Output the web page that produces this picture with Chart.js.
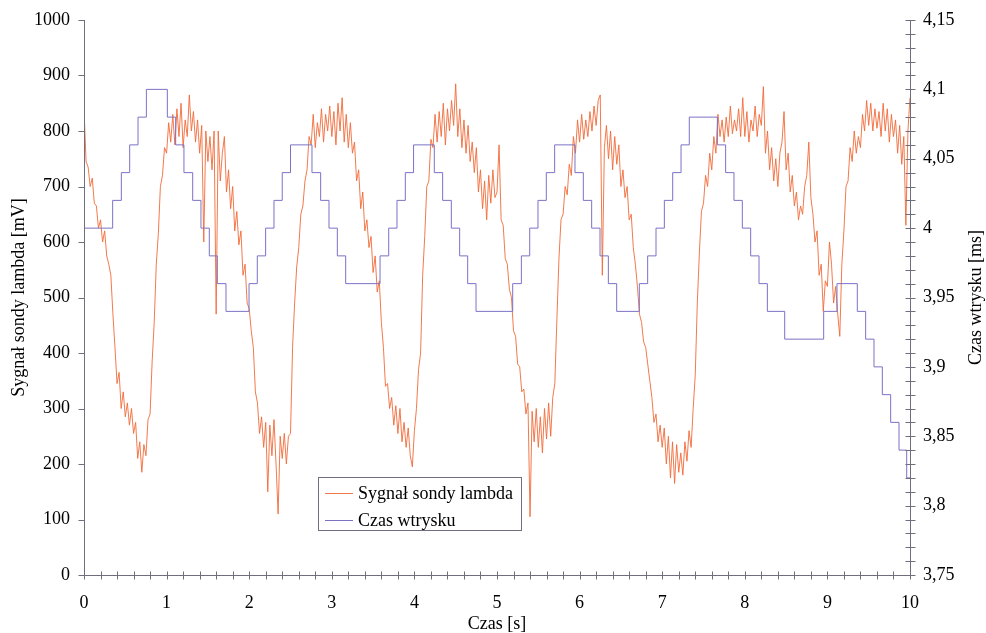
<!DOCTYPE html>
<html>
<head>
<meta charset="utf-8">
<script src="https://cdn.jsdelivr.net/npm/chart.js@4.4.1/dist/chart.umd.min.js"></script>
<style>
  html, body { margin: 0; padding: 0; background: #fff; }
  canvas { display: block; }
</style>
</head>
<body>
<canvas id="chart" width="986" height="633"></canvas>
<script>
// Lambda probe signal [mV], sampled every 0.025 s (one row per second)
const SAMPLE_STEP = 0.025;
const lambdaSignal = [
    840, 745, 735, 700, 715, 670, 665, 625, 640, 600, 620, 575, 560, 540, 470, 410, 345, 365, 300, 330,
    285, 310, 270, 300, 255, 275, 210, 240, 185, 235, 215, 280, 290, 385, 455, 560, 615, 700, 720, 770,
    760, 815, 780, 830, 775, 840, 790, 850, 770, 820, 790, 865, 800, 835, 780, 820, 760, 810, 600, 800,
    745, 790, 730, 800, 470, 800, 710, 760, 790, 690, 730, 660, 700, 620, 655, 595, 620, 540, 560, 490,
    480, 440, 410, 330, 310, 255, 285, 230, 275, 150, 270, 215, 280, 200, 110, 250, 210, 255, 200, 250,
    255, 410, 490, 555, 590, 650, 665, 710, 730, 790, 775, 830, 770, 815, 790, 840, 780, 830, 800, 845,
    790, 835, 775, 850, 800, 860, 780, 830, 770, 815, 760, 780, 710, 730, 660, 690, 620, 640, 590, 610,
    545, 575, 510, 530, 455, 410, 340, 345, 300, 320, 270, 305, 255, 300, 240, 275, 230, 265, 215, 195,
    260, 300, 370, 400, 540, 610, 700, 710, 785, 770, 830, 780, 835, 790, 850, 775, 840, 800, 855, 810,
    885, 790, 840, 770, 820, 760, 810, 745, 780, 725, 770, 690, 730, 660, 710, 640, 720, 670, 730, 680,
    690, 775, 640, 630, 570, 560, 515, 500, 440, 430, 380, 375, 330, 335, 290, 310, 105, 295, 240, 300,
    230, 285, 220, 300, 245, 310, 250, 320, 345, 460, 570, 640, 650, 700, 685, 740, 720, 790, 760, 820,
    780, 830, 785, 820, 790, 835, 800, 845, 810, 855, 865, 540, 770, 810, 750, 800, 730, 790, 740, 775,
    700, 730, 680, 700, 640, 650, 590, 560, 520, 470, 455, 420, 410, 380, 350, 320, 275, 290, 240, 270,
    230, 265, 200, 250, 175, 240, 165, 235, 185, 220, 180, 240, 205, 260, 230, 300, 360, 490, 580, 655,
    670, 720, 700, 760, 730, 790, 760, 830, 790, 820, 780, 825, 790, 845, 795, 820, 800, 840, 790, 860,
    790, 835, 780, 820, 800, 845, 790, 830, 810, 880, 760, 800, 730, 770, 710, 750, 700, 760, 780, 835,
    730, 760, 690, 720, 665, 690, 640, 665, 650, 700, 720, 780, 680, 650, 600, 620, 540, 560, 475, 530,
    520, 600, 560, 490, 520, 470, 430, 560, 620, 700, 710, 770, 745, 800, 760, 790, 770, 830, 800, 855,
    810, 850, 800, 840, 805, 835, 790, 850, 800, 840, 780, 830, 790, 820, 760, 810, 740, 790, 630, 800,
    860
];

// Injection time [ms]: moments the value changes and the value held from then on
const injectTimes = [
    0, 0.347, 0.452, 0.553, 0.654, 0.755, 1.009, 1.11, 1.21, 1.316, 1.416, 1.517, 1.614, 1.719,
    1.998, 2.098, 2.199, 2.30, 2.40, 2.50, 2.76, 2.865, 2.966, 3.067, 3.168, 3.584, 3.689, 3.789,
    3.89, 3.99, 4.241, 4.342, 4.447, 4.548, 4.645, 4.746, 5.19, 5.295, 5.396, 5.496, 5.597, 5.698,
    5.944, 6.045, 6.146, 6.247, 6.348, 6.449, 6.723, 6.824, 6.925, 7.026, 7.127, 7.228, 7.328,
    7.668, 7.768, 7.869, 7.97, 8.071, 8.172, 8.273, 8.483, 8.955, 9.116, 9.362, 9.463, 9.564,
    9.665, 9.766, 9.867, 9.96, 10
];
const injectValues = [
    4.00, 4.02, 4.04, 4.06, 4.08, 4.10, 4.08, 4.06, 4.04, 4.02, 4.00, 3.98, 3.96, 3.94,
    3.96, 3.98, 4.00, 4.02, 4.04, 4.06, 4.04, 4.02, 4.00, 3.98, 3.96, 3.98, 4.00, 4.02,
    4.04, 4.06, 4.04, 4.02, 4.00, 3.98, 3.96, 3.94, 3.96, 3.98, 4.00, 4.02, 4.04, 4.06,
    4.04, 4.02, 4.00, 3.98, 3.96, 3.94, 3.96, 3.98, 4.00, 4.02, 4.04, 4.06, 4.08,
    4.06, 4.04, 4.02, 4.00, 3.98, 3.96, 3.94, 3.92, 3.94, 3.96, 3.94, 3.92, 3.90,
    3.88, 3.86, 3.84, 3.82, 3.82
];

// Axis ranges and tick spacing
const X_MIN = 0, X_MAX = 10, X_STEP = 1, X_MINOR = 0.2;
const MV_MIN = 0, MV_MAX = 1000, MV_STEP = 100;
const MS_MIN = 3.75, MS_MAX = 4.15, MS_STEP = 0.05, MS_MINOR = 0.01;

const SERIES_LABELS = ['Sygnał sondy lambda', 'Czas wtrysku'];
const AXIS_TITLES = { x: 'Czas [s]', y: 'Sygnał sondy lambda [mV]', y2: 'Czas wtrysku [ms]' };

const ORANGE = 'rgba(242, 106, 58, 0.9)';
const BLUE = '#7b72c6';
const AXIS_COLOR = '#6e6e7e';
const FONT = '"Liberation Serif", "Times New Roman", serif';

Chart.defaults.font.family = FONT;
Chart.defaults.font.size = 18;
Chart.defaults.color = '#000';

const crisp = v => Math.round(v) + 0.5;

// Axis lines and tick marks in the old spreadsheet style
const axisFrame = {
    id: 'axisFrame',
    afterDatasetsDraw(chart) {
        const { ctx, chartArea: a, scales } = chart;
        const left = crisp(a.left), right = crisp(a.right), bottom = crisp(a.bottom);
        ctx.save();
        ctx.strokeStyle = AXIS_COLOR;
        ctx.lineWidth = 1;
        ctx.beginPath();
        ctx.moveTo(left, a.top);
        ctx.lineTo(left, bottom);
        ctx.lineTo(right, bottom);
        ctx.moveTo(right, a.top);
        ctx.lineTo(right, bottom);

        // left axis: outward ticks
        for (let v = MV_MIN; v <= MV_MAX; v += MV_STEP) {
            const y = crisp(scales.y.getPixelForValue(v));
            ctx.moveTo(left - 6, y);
            ctx.lineTo(left, y);
        }
        // bottom axis: crossing ticks
        const nx = Math.round((X_MAX - X_MIN) / X_MINOR);
        for (let i = 0; i <= nx; i++) {
            const x = crisp(scales.x.getPixelForValue(X_MIN + i * X_MINOR));
            ctx.moveTo(x, bottom - 4);
            ctx.lineTo(x, bottom + 4);
        }
        // right axis: crossing ticks
        const ny = Math.round((MS_MAX - MS_MIN) / MS_MINOR);
        for (let i = 0; i <= ny; i++) {
            const y = crisp(scales.y2.getPixelForValue(MS_MIN + i * MS_MINOR));
            ctx.moveTo(right - 5, y);
            ctx.lineTo(right + 5, y);
        }
        ctx.stroke();

        // right axis title, read bottom to top like the left one
        ctx.fillStyle = '#000';
        ctx.font = '18px ' + FONT;
        ctx.textAlign = 'center';
        ctx.textBaseline = 'middle';
        ctx.translate(chart.width - 10, (a.top + a.bottom) / 2);
        ctx.rotate(-Math.PI / 2);
        ctx.fillText(AXIS_TITLES.y2, 0, 0);
        ctx.restore();
    }
};

// Boxed legend sitting inside the plot
const boxLegend = {
    id: 'boxLegend',
    afterDraw(chart) {
        const { ctx } = chart;
        const box = { x: 318.5, y: 477.5, w: 203, h: 53 };
        ctx.save();
        ctx.fillStyle = '#fff';
        ctx.fillRect(box.x, box.y, box.w, box.h);
        ctx.strokeStyle = AXIS_COLOR;
        ctx.lineWidth = 1;
        ctx.strokeRect(box.x, box.y, box.w, box.h);
        ctx.font = '18px ' + FONT;
        ctx.textBaseline = 'middle';
        ctx.fillStyle = '#000';
        chart.data.datasets.forEach((ds, i) => {
            const y = 493.5 + i * 27;
            ctx.strokeStyle = ds.borderColor;
            ctx.beginPath();
            ctx.moveTo(325, y);
            ctx.lineTo(353, y);
            ctx.stroke();
            ctx.fillText(ds.label, 358, y + 1);
        });
        ctx.restore();
    }
};

const fmtMs = v => String(Number(v.toFixed(2))).replace('.', ',');

// tick labels may hang over the plot edge, so drop the label padding
function fixVertical(width) {
    return scale => {
        scale.width = width;
        scale.paddingTop = 0;
        scale.paddingBottom = 0;
    };
}

new Chart(document.getElementById('chart'), {
    type: 'line',
    data: {
        datasets: [
            {
                label: SERIES_LABELS[0],
                data: lambdaSignal.map((v, i) => ({ x: i * SAMPLE_STEP, y: v })),
                borderColor: ORANGE,
                borderWidth: 1,
                pointRadius: 0,
                tension: 0,
                yAxisID: 'y',
                order: 1
            },
            {
                label: SERIES_LABELS[1],
                data: injectTimes.map((t, i) => ({ x: t, y: injectValues[i] })),
                borderColor: BLUE,
                borderWidth: 1,
                pointRadius: 0,
                stepped: 'before',
                yAxisID: 'y2',
                order: 0
            }
        ]
    },
    options: {
        responsive: false,
        devicePixelRatio: 1,
        animation: false,
        layout: { padding: { top: 20, left: 0, right: 0, bottom: 0 } },
        plugins: {
            legend: { display: false },
            tooltip: { enabled: false }
        },
        scales: {
            x: {
                type: 'linear',
                min: X_MIN,
                max: X_MAX,
                grid: { display: false, drawTicks: false },
                border: { display: false },
                ticks: { stepSize: X_STEP, padding: 17, maxRotation: 0 },
                title: { display: true, text: AXIS_TITLES.x, font: { lineHeight: 1 }, padding: 0 },
                afterFit(scale) {
                    scale.height = 58;
                    scale.paddingLeft = 0;
                    scale.paddingRight = 0;
                }
            },
            y: {
                position: 'left',
                min: MV_MIN,
                max: MV_MAX,
                grid: { display: false, drawTicks: false },
                border: { display: false },
                ticks: { stepSize: MV_STEP, padding: 14, callback: v => String(v) },
                title: { display: true, text: AXIS_TITLES.y, font: { lineHeight: 1 }, padding: { top: 10, bottom: 0 } },
                afterFit: fixVertical(84)
            },
            y2: {
                position: 'right',
                min: MS_MIN,
                max: MS_MAX,
                grid: { display: false, drawTicks: false },
                border: { display: false },
                ticks: { stepSize: MS_STEP, padding: 13, callback: v => fmtMs(v) },
                title: { display: false },
                afterFit: fixVertical(76)
            }
        }
    },
    plugins: [axisFrame, boxLegend]
});
</script>
</body>
</html>
